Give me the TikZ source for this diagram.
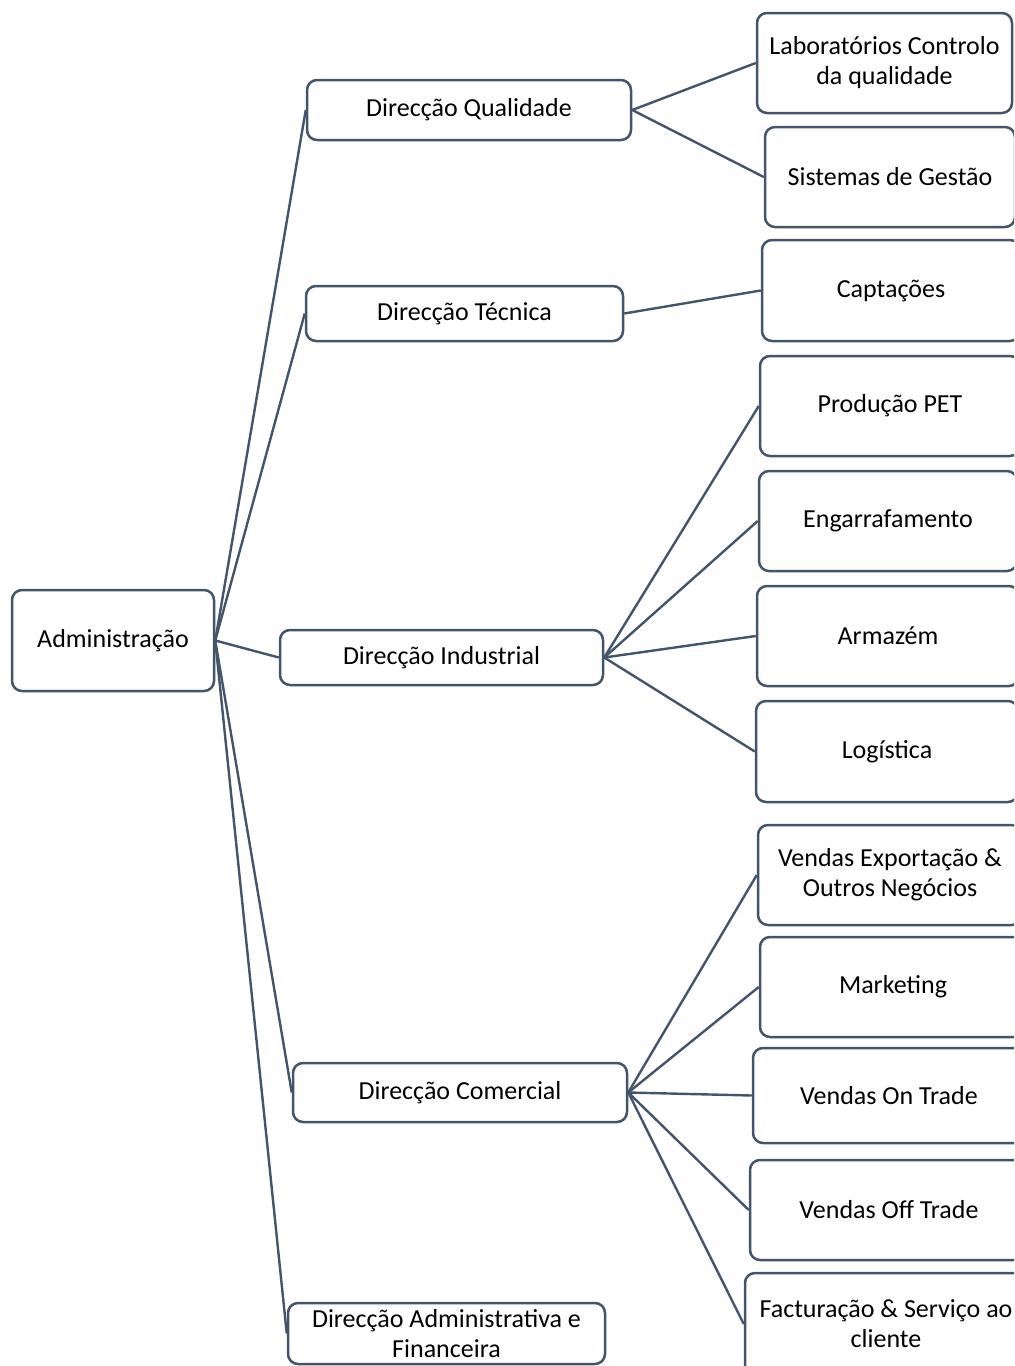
\documentclass[tikz,border=0pt]{standalone}
\usepackage{fontspec}
\setmainfont{Carlito}
\definecolor{slate}{HTML}{44546A}
\tikzset{
  box/.style={draw=slate, line width=1.25pt, rounded corners=5pt, fill=white,
    align=center, inner sep=0pt, font=\fontsize{13}{15}\selectfont},
  link/.style={draw=slate, line width=1.2pt}
}
\begin{document}
\begin{tikzpicture}[x=0.5pt,y=-0.5pt]
\useasboundingbox (0,0) rectangle (1014,1366);
\clip (0,0) rectangle (1014,1366);

% root
\node[box, minimum width=101pt, minimum height=50.5pt] (adm) at (113,640.5) {Administração};

% directorates
\node[box, minimum width=162pt, minimum height=30pt] (dq) at (469,110) {Direcção Qualidade};
\node[box, minimum width=158.5pt, minimum height=27.5pt] (dt) at (464.5,313.5) {Direcção Técnica};
\node[box, minimum width=161.5pt, minimum height=27.5pt] (di) at (441.5,657.5) {Direcção Industrial};
\node[box, minimum width=167pt, minimum height=29.5pt] (dc) at (460,1092.5) {Direcção Comercial};
\node[box, minimum width=158.5pt, minimum height=30.5pt] (daf) at (446.5,1333.5) {Direcção Administrativa e\\Financeira};

% departments
\node[box, minimum width=127.5pt, minimum height=50pt] (lab) at (884.5,63) {Laboratórios Controlo\\da qualidade};
\node[box, minimum width=125pt, minimum height=50pt] (sg) at (890,177) {Sistemas de Gestão};
\node[box, minimum width=129pt, minimum height=50.5pt] (cap) at (891,290.5) {Captações};
\node[box, minimum width=130pt, minimum height=50pt] (pet) at (890,406) {Produção PET};
\node[box, minimum width=129pt, minimum height=50pt] (eng) at (888,521) {Engarrafamento};
\node[box, minimum width=131pt, minimum height=50pt] (arm) at (888,636) {Armazém};
\node[box, minimum width=131pt, minimum height=50.5pt] (log) at (887,751.5) {Logística};
\node[box, minimum width=132pt, minimum height=50pt] (vex) at (890,875) {Vendas Exportação \&\\Outros Negócios};
\node[box, minimum width=133pt, minimum height=50pt] (mkt) at (893,987) {Marketing};
\node[box, minimum width=136pt, minimum height=47.5pt] (on) at (889,1095.5) {Vendas On Trade};
\node[box, minimum width=139pt, minimum height=50pt] (off) at (889,1210) {Vendas Off Trade};
\node[box, minimum width=141pt, minimum height=51pt] (fac) at (886,1324) {Facturação \& Serviço ao\\cliente};

% connectors
\foreach \d in {dq,dt,di,dc,daf}
  \draw[link] (adm.east) -- (\d.west);
\foreach \d in {lab,sg}
  \draw[link] (dq.east) -- (\d.west);
\draw[link] (dt.east) -- (cap.west);
\foreach \d in {pet,eng,arm,log}
  \draw[link] (di.east) -- (\d.west);
\foreach \d in {vex,mkt,on,off,fac}
  \draw[link] (dc.east) -- (\d.west);
\end{tikzpicture}
\end{document}
